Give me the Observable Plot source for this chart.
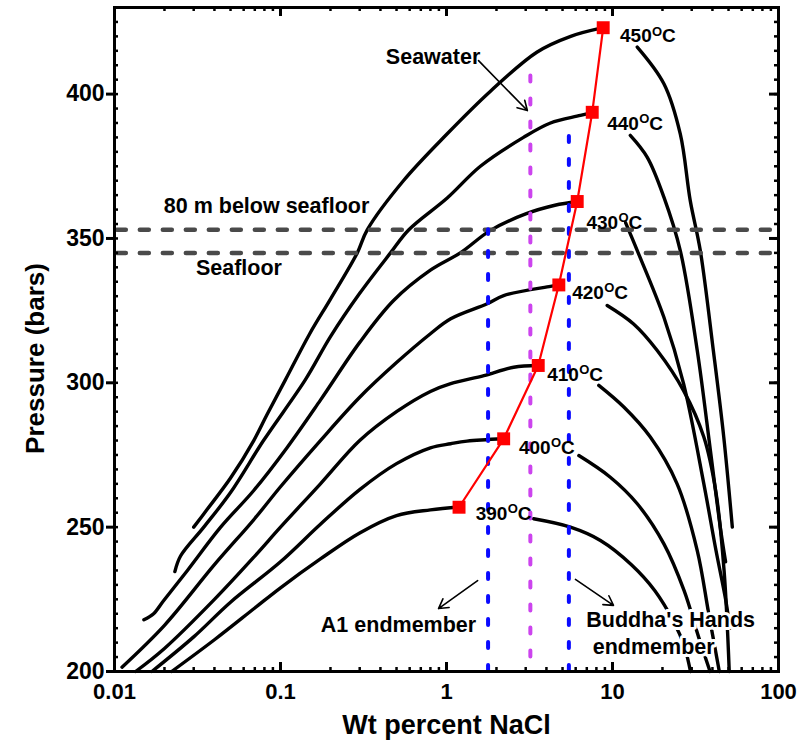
<!DOCTYPE html>
<html><head><meta charset="utf-8">
<script src="https://cdn.jsdelivr.net/npm/d3@7"></script>
<script src="https://cdn.jsdelivr.net/npm/@observablehq/plot@0.6"></script>
<style>body{margin:0;background:#fff}</style>
</head><body><div id="chart"></div>
<script>
// ---- data (wt% NaCl, pressure bars) ----
const temps = [390, 400, 410, 420, 430, 440, 450];

// vapour-side (low salinity) branches, ending at critical point
const vapor390 = [[0.0221,200],[0.04,211],[0.07,222],[0.1,229],[0.174,239],[0.3,248],[0.5,254],[0.8,256],[1.19,257]];
const vapor400 = [[0.0168,200],[0.03,212],[0.05,224],[0.1,238],[0.174,251],[0.3,263],[0.5,272],[0.8,277.5],[1.06,278.9],[1.33,279.8],[2.21,280.6]];
const vapor410 = [[0.0134,200],[0.02,208],[0.04,225],[0.07,240],[0.1,250],[0.174,265],[0.3,280],[0.5,290],[0.8,297],[1.06,299.7],[1.68,302.5],[2.54,305.4],[3.57,306]];
const vapor420 = [[0.0111,201.5],[0.02,216],[0.04,237],[0.07,253],[0.1,264],[0.174,280],[0.3,295],[0.5,307],[0.8,317],[1.06,322.2],[1.76,327.4],[2.21,330.2],[4.23,333.4],[4.75,333.9]];
const vapor430 = [[0.01503,217.9],[0.0172,220],[0.0198,224.6],[0.0275,235],[0.0436,250],[0.069,262.7],[0.11,277.7],[0.174,294],[0.3,314],[0.48,328.5],[0.8,339],[1.21,345],[1.84,352.8],[3.0,358.5],[4.5,361.5],[6.13,362.8]];
const vapor440 = [[0.0231,234.6],[0.025,240],[0.0345,250],[0.05,262],[0.079,280],[0.141,301],[0.2,316],[0.3,331],[0.46,345],[0.593,353],[1.01,364],[1.6,375],[2.91,385],[4.23,390],[6.41,392.6],[7.55,393.7]];
const vapor450 = [[0.030,250],[0.036,256],[0.05,267],[0.069,280],[0.083,289],[0.107,301],[0.15,317],[0.2,329],[0.29,345],[0.333,353],[0.55,370],[1.0,386],[1.84,401],[3.5,414.5],[5.6,420],[8.79,423]];

// liquid-side (high salinity) branches
const liquid390 = [[3.35,252.9],[5.58,250],[8.46,245.4],[13,237],[18,228],[23.5,217],[27,209],[29.5,200]];
const liquid400 = [[6.27,274.8],[9.7,267.3],[14.1,258.1],[20.4,244.2],[27,228],[33,212],[38.7,200]];
const liquid410 = [[8.27,299.1],[11.7,291.6],[16.9,281.2],[24.5,265],[32.4,241.9],[38,220],[44,200]];
const liquid420 = [[9.29,326.8],[13.4,320.4],[18.6,311.2],[26.8,297.3],[35.5,281.2],[42,262],[47,235],[50.5,200]];
const liquid430 = [[12.0,355.4],[14.1,345.8],[20.4,322.7],[26.8,299.7],[35.5,265],[42,242],[48,225],[51,215]];
const liquid440 = [[12.8,385.7],[16.2,378.1],[20.4,364.3],[25.6,345.8],[32.4,311.2],[38.9,276.5],[44.6,250],[48,238]];
const liquid450 = [[14.1,416.3],[20.4,403.6],[25.6,386.2],[29.4,363.1],[33.8,345.8],[40.5,311.2],[46.8,281.2],[52.7,250]];

// critical points (red squares)
const critSalinity = [1.19, 2.21, 3.57, 4.75, 6.13, 7.55, 8.79];
const critPressure = [256.9, 280.6, 306, 333.9, 362.8, 393.7, 423];

// isotherm label anchors
const labelSalinity = [1.50, 2.73, 4.04, 5.72, 6.97, 9.29, 11.1];
const labelPressure = [254.5, 277.6, 302.9, 331.1, 355.5, 389.7, 420.0];

// reference lines
const depthNames = ["80 m below seafloor", "Seafloor"];
const depthPressure = [353, 345];
const endmemberNames = ["A1 endmember", "Buddha's Hands endmember", "Seawater"];
const endmemberSalinity = [1.78, 5.46, 3.2];
const endmemberTop = [353, 387, 410];
const endmemberBottom = [200, 200, 205];

// annotation arrows [x1,P1,x2,P2]
const arrowsData = [[1.56,411.6,3.07,394.3],[1.54,231.5,0.895,221.8],[5.98,231.9,10.14,222.9]];

// ticks
const xMajorTicks = [0.01, 0.1, 1, 10, 100];
const xTickLabels = ["0.01", "0.1", "1", "10", "100"];
const xMinorTicks = [0.02,0.03,0.04,0.05,0.06,0.07,0.08,0.09,0.2,0.3,0.4,0.5,0.6,0.7,0.8,0.9,2,3,4,5,6,7,8,9,20,30,40,50,60,70,80,90];
const yMajorTicks = [200, 250, 300, 350, 400];
const yMinorTicks = d3.range(200, 431, 5);

// ---- build tables ----
const vapors = [vapor390, vapor400, vapor410, vapor420, vapor430, vapor440, vapor450];
const liquids = [liquid390, liquid400, liquid410, liquid420, liquid430, liquid440, liquid450];
const curves = [];
temps.forEach((T, i) => {
  vapors[i].forEach(([x, P]) => curves.push({key: T + "v", x, P}));
  liquids[i].forEach(([x, P]) => curves.push({key: T + "l", x, P}));
});
const crit = temps.map((T, i) => ({T, x: critSalinity[i], P: critPressure[i]}));
const tLabels = temps.map((T, i) => ({T, x: labelSalinity[i], P: labelPressure[i]}));
const depthRows = depthNames.map((n, i) => ({n, P: depthPressure[i]}));
const endRows = endmemberNames.map((n, i) => ({n, x: endmemberSalinity[i], top: endmemberTop[i], bottom: endmemberBottom[i]}));
const arrows = arrowsData.map(([x1, y1, x2, y2]) => ({x1, y1, x2, y2}));

const notes = [
  {t: "80 m below seafloor", x: 0.0824, P: 361.1},
  {t: "Seafloor", x: 0.0562, P: 339.6},
  {t: "Seawater", x: 0.83, P: 412.7},
  {t: "A1 endmember", x: 0.514, P: 215.9}
];
const bhNotes = [
  {t: "Buddha's Hands", x: 22.4, P: 217.7},
  {t: "endmember", x: 17.7, P: 208.3}
];

const font = "'Liberation Sans', Arial, Helvetica, sans-serif";
const W = 803, H = 749, ML = 114, MR = 25, MT = 7, MB = 78;
const FW = W - ML - MR, FH = H - MT - MB;

const chart = Plot.plot({
  width: W,
  height: H,
  marginLeft: ML,
  marginRight: MR,
  marginTop: MT,
  marginBottom: MB,
  x: {type: "log", domain: [0.01, 100]},
  y: {domain: [200, 430]},
  style: {fontFamily: font, fontWeight: "bold", background: "white", color: "black"},
  marks: [
    Plot.line(curves, {x: "x", y: "P", z: "key", stroke: "black", strokeWidth: 3.4, curve: "catmull-rom", strokeLinejoin: "round", strokeLinecap: "round"}),
    Plot.ruleY(depthRows, {y: "P", x1: 0.0104, x2: 100, stroke: "#4a4a4a", strokeWidth: 4.5, strokeDasharray: "9,14", strokeLinecap: "round"}),
    Plot.ruleX(endRows.filter(d => d.n !== "Seawater"), {x: "x", y1: "bottom", y2: "top", stroke: "#0a0aff", strokeWidth: 4, strokeDasharray: "6,17", strokeLinecap: "round"}),
    Plot.ruleX(endRows.filter(d => d.n === "Seawater"), {x: "x", y1: "bottom", y2: "top", stroke: "#cc44ee", strokeWidth: 4, strokeDasharray: "6,17", strokeLinecap: "round"}),
    Plot.line(crit, {x: "x", y: "P", stroke: "#ff0000", strokeWidth: 2.2}),
    Plot.dot(crit, {x: "x", y: "P", symbol: "square", r: 7.3, fill: "#ff0000"}),
    Plot.text(tLabels, {x: "x", y: "P", text: d => String(d.T), textAnchor: "start", fontSize: 19, fill: "black"}),
    Plot.text(tLabels, {x: "x", y: "P", text: () => "O", textAnchor: "start", dx: 32, dy: -5, fontSize: 13, fill: "black"}),
    Plot.text(tLabels, {x: "x", y: "P", text: () => "C", textAnchor: "start", dx: 42, fontSize: 19, fill: "black"}),
    Plot.text(notes, {x: "x", y: "P", text: "t", fontSize: 21.5, fill: "black"}),
    Plot.text(bhNotes, {x: "x", y: "P", text: "t", fontSize: 21.5, fill: "black", stroke: "white", strokeWidth: 6}),
    Plot.arrow(arrows, {x1: "x1", y1: "y1", x2: "x2", y2: "y2", stroke: "black", strokeWidth: 1.6, headLength: 10}),
    // ticks (inward, except left majors outward)
    Plot.ruleX(xMajorTicks, {x: d => d, insetTop: FH - 9, stroke: "black", strokeWidth: 3}),
    Plot.ruleX(xMinorTicks, {x: d => d, insetTop: FH - 4, stroke: "black", strokeWidth: 2.5}),
    Plot.ruleX(xMajorTicks, {x: d => d, insetBottom: FH - 9, stroke: "black", strokeWidth: 3}),
    Plot.ruleX(xMinorTicks, {x: d => d, insetBottom: FH - 4, stroke: "black", strokeWidth: 2.5}),
    Plot.ruleY(yMajorTicks, {y: d => d, insetLeft: -8, insetRight: FW, stroke: "black", strokeWidth: 3}),
    Plot.ruleY(yMinorTicks, {y: d => d, insetRight: FW - 4, stroke: "black", strokeWidth: 2.5}),
    Plot.ruleY(yMajorTicks, {y: d => d, insetLeft: FW - 9, stroke: "black", strokeWidth: 3}),
    Plot.ruleY(yMinorTicks, {y: d => d, insetLeft: FW - 4, stroke: "black", strokeWidth: 2.5}),
    Plot.frame({stroke: "black", strokeWidth: 3}),
    // tick labels
    Plot.axisX({anchor: "bottom", ticks: xMajorTicks, tickSize: 0, tickPadding: 12, fontSize: 22, label: null, tickFormat: d => xTickLabels[xMajorTicks.indexOf(d)]}),
    Plot.axisY({anchor: "left", ticks: yMajorTicks, tickSize: 0, tickPadding: 10, fontSize: 23, label: null}),
    // axis titles
    Plot.text(["Wt percent NaCl"], {frameAnchor: "bottom", textAnchor: "middle", lineAnchor: "middle", dy: 54, fontSize: 27, fill: "black"}),
    Plot.text(["Pressure (bars)"], {frameAnchor: "left", textAnchor: "middle", lineAnchor: "middle", dx: -79, dy: 19, rotate: -90, fontSize: 26, fill: "black"})
  ]
});
document.getElementById("chart").appendChild(chart);
</script>
</body></html>
